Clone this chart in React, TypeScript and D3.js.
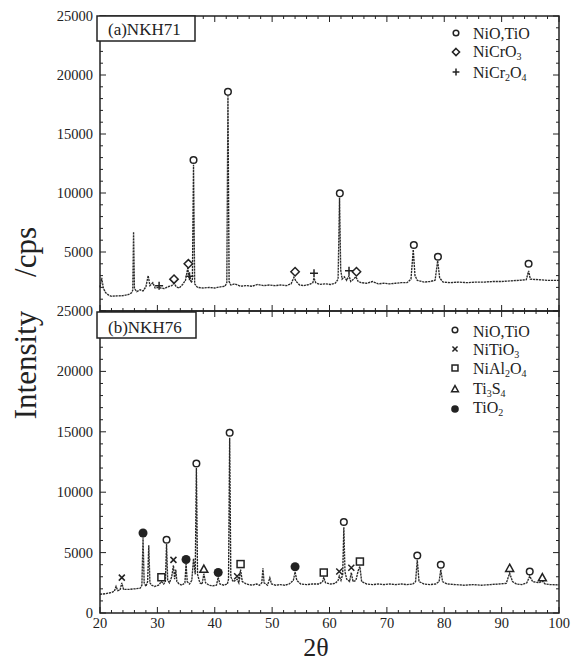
import React from "react";
import * as d3 from "d3";

// ---------- DATA ----------
const xTicksMajor = [20, 30, 40, 50, 60, 70, 80, 90, 100];
const yTicksTop = [5000, 10000, 15000, 20000, 25000];
const yTicksBottom = [0, 5000, 10000, 15000, 20000, 25000];

// (a) NKH71 pattern: [2theta, cps]
const patternA: [number, number][] = [
  [20.0, 2000], [20.3, 2800], [20.6, 1900], [21.0, 1550], [21.5, 1350], [22, 1250], [23, 1280], [24, 1300], [25, 1400],
  [25.5, 1550], [25.7, 1750], [25.85, 6700], [26.0, 1900], [26.4, 1650], [27, 1800], [27.5, 1700], [28.0, 2050],
  [28.4, 3000], [28.7, 2150], [29.2, 2400], [29.6, 1950], [30.2, 2000], [30.6, 1950], [31.2, 1900], [31.8, 2050],
  [32.5, 2150], [32.9, 2350], [33.3, 2050], [33.8, 1950], [34.4, 2250], [34.9, 2600], [35.3, 3650], [35.5, 2800],
  [35.7, 2850], [35.9, 2400], [36.1, 2600], [36.3, 12400], [36.5, 2300], [37, 2000], [38, 1950], [39, 2000],
  [40, 1950], [41, 2050], [41.8, 2100], [42.1, 2400], [42.3, 18200], [42.5, 2500], [42.8, 2200], [43.5, 2300],
  [44.5, 2100], [45.5, 2150], [46.5, 2100], [47.5, 2250], [48.5, 2150], [49.5, 2200], [50.5, 2150], [51.5, 2200],
  [52.5, 2150], [53.3, 2300], [53.8, 2850], [54.2, 2500], [54.8, 2200], [55.5, 2150], [56.5, 2250], [57.1, 2400],
  [57.3, 2800], [57.6, 2400], [58.3, 2250], [59.2, 2300], [60.2, 2250], [61.0, 2350], [61.5, 2700], [61.75, 9600],
  [61.95, 3500], [62.2, 2700], [62.6, 2900], [63.0, 2600], [63.4, 3000], [63.7, 2500], [64.2, 2700], [64.6, 2900],
  [65.0, 2500], [65.5, 2400], [66.5, 2350], [67.5, 2500], [68.5, 2300], [69.5, 2350], [70.5, 2300], [71.5, 2350],
  [72.5, 2400], [73.5, 2400], [74.2, 2700], [74.6, 5200], [74.9, 3000], [75.3, 2600], [76.5, 2450], [77.5, 2500],
  [78.4, 2600], [78.85, 4250], [79.2, 2800], [79.8, 2450], [81, 2400], [82.5, 2450], [84, 2400], [85.5, 2450],
  [87, 2450], [88.5, 2500], [90, 2500], [91.5, 2550], [93, 2600], [94.3, 2650], [94.7, 3400], [95.0, 2700],
  [96.5, 2650], [98, 2600], [100, 2600],
];

// (b) NKH76 pattern: [2theta, cps]
const patternB: [number, number][] = [
  [20, 1550], [21, 1600], [22, 1700], [22.5, 1800], [22.8, 2200], [23.1, 1850], [23.5, 1900], [23.8, 2500],
  [24.1, 1950], [25, 1950], [26, 2000], [27, 2050], [27.3, 2300], [27.5, 6250], [27.7, 2500], [28.0, 2200],
  [28.3, 2600], [28.5, 5600], [28.7, 2500], [29.0, 2300], [29.5, 2200], [30.2, 2300], [30.7, 2600], [31.1, 2400],
  [31.4, 2600], [31.6, 5700], [31.8, 2700], [32.1, 2500], [32.5, 3000], [32.8, 3950], [33.0, 2800], [33.2, 3600],
  [33.4, 2600], [33.8, 2400], [34.3, 2300], [34.8, 2500], [35.0, 4050], [35.2, 2600], [35.6, 2400], [36.0, 2700],
  [36.3, 4500], [36.6, 3200], [36.8, 12000], [37.0, 3200], [37.4, 2500], [37.8, 2400], [38.1, 3250], [38.4, 2500],
  [39, 2300], [39.6, 2250], [40.3, 2300], [40.6, 2950], [40.9, 2400], [41.6, 2300], [42.2, 2400], [42.4, 2800],
  [42.6, 14500], [42.8, 3000], [43.2, 2600], [43.6, 2700], [43.9, 2800], [44.2, 2500], [44.5, 3600], [44.8, 2600],
  [45.5, 2400], [46.5, 2300], [47.3, 2400], [47.8, 2300], [48.2, 2500], [48.4, 3700], [48.6, 2500], [49.2, 2300],
  [49.6, 2900], [49.9, 2400], [50.6, 2300], [51.4, 2350], [52.2, 2300], [53.0, 2400], [53.7, 2700], [54.0, 3400],
  [54.3, 2700], [55.0, 2400], [56, 2350], [57, 2400], [58.2, 2400], [58.8, 2600], [59.0, 2950], [59.3, 2500],
  [60.2, 2400], [61.0, 2450], [61.5, 2700], [61.7, 3050], [62.0, 2700], [62.3, 3200], [62.5, 7100], [62.7, 3400],
  [63.0, 2800], [63.5, 2600], [63.8, 3350], [64.1, 2600], [64.6, 2700], [65.0, 3500], [65.3, 3850], [65.6, 2600],
  [66.5, 2400], [67.5, 2350], [68.5, 2400], [69.5, 2350], [70.5, 2400], [71.5, 2350], [72.5, 2400], [73.5, 2350],
  [74.5, 2400], [75.0, 2600], [75.3, 4400], [75.6, 2600], [76.5, 2400], [77.5, 2350], [78.5, 2400], [79.1, 2600],
  [79.4, 3600], [79.7, 2600], [80.5, 2400], [82, 2350], [83.5, 2300], [85, 2350], [86.5, 2300], [88, 2350],
  [89.5, 2400], [90.8, 2450], [91.4, 3300], [91.9, 2600], [92.6, 2400], [93.5, 2350], [94.4, 2500], [94.9, 3050],
  [95.4, 2600], [96.5, 2500], [97.1, 2650], [97.6, 2400], [98.5, 2350], [100, 2330],
];

// Phase markers (a)
const aNiOTiO: [number, number][] = [[36.3, 12800], [42.3, 18570], [61.8, 9970], [74.7, 5590], [78.9, 4600], [94.7, 4000]];
const aNiCrO3: [number, number][] = [[32.9, 2700], [35.4, 4000], [54.0, 3330], [64.7, 3330]];
const aNiCr2O4: [number, number][] = [[30.3, 2150], [35.6, 2950], [57.3, 3190], [63.4, 3410]];

// Phase markers (b)
const bNiOTiO: [number, number][] = [[31.6, 6060], [36.8, 12380], [42.6, 14920], [62.5, 7530], [75.3, 4760], [79.4, 3990], [94.9, 3430]];
const bNiTiO3: [number, number][] = [[23.8, 2930], [32.8, 4400], [43.9, 3050], [61.7, 3430], [63.8, 3740]];
const bNiAl2O4: [number, number][] = [[30.7, 2960], [44.5, 4050], [59.0, 3350], [65.3, 4260]];
const bTi3S4: [number, number][] = [[38.1, 3630], [91.4, 3710], [97.1, 2930]];
const bTiO2: [number, number][] = [[27.5, 6620], [35.0, 4430], [40.6, 3350], [54.0, 3830]];

const FONT = "'Liberation Serif', 'Times New Roman', serif";
const INK = "#222";

type Shape = "circle" | "diamond" | "plus" | "cross" | "square" | "triangle" | "dot";

function Marker({ shape, x, y, s = 1 }: { shape: Shape; x: number; y: number; s?: number }) {
  const sw = 1.5;
  switch (shape) {
    case "circle":
      return <circle cx={x} cy={y} r={3.3 * s} fill="white" stroke={INK} strokeWidth={sw} />;
    case "diamond": {
      const r = 4.2 * s;
      return <path d={`M${x},${y - r}L${x + r},${y}L${x},${y + r}L${x - r},${y}Z`} fill="white" stroke={INK} strokeWidth={sw} />;
    }
    case "plus": {
      const r = 4 * s;
      return <path d={`M${x - r},${y}H${x + r}M${x},${y - r}V${y + r}`} stroke={INK} strokeWidth={sw} />;
    }
    case "cross": {
      const r = 3 * s;
      return <path d={`M${x - r},${y - r}L${x + r},${y + r}M${x - r},${y + r}L${x + r},${y - r}`} stroke={INK} strokeWidth={sw} />;
    }
    case "square": {
      const r = 3.5 * s;
      return <rect x={x - r} y={y - r} width={2 * r} height={2 * r} fill="white" stroke={INK} strokeWidth={sw} />;
    }
    case "triangle": {
      const r = 4 * s;
      return <path d={`M${x},${y - r}L${x + r},${y + r * 0.8}L${x - r},${y + r * 0.8}Z`} fill="white" stroke={INK} strokeWidth={sw} />;
    }
    case "dot":
      return <circle cx={x} cy={y} r={4.5 * s} fill={INK} stroke="none" />;
  }
}

const L = 100, R = 559;
const topY0 = 16, topY1 = 311, botY0 = 311, botY1 = 613;

function Panel({
  y0, y1, ticks, pattern, markers, label, labelBox,
}: {
  y0: number; y1: number; ticks: number[]; pattern: [number, number][];
  markers: { shape: Shape; pts: [number, number][] }[]; label: string; labelBox: [number, number, number, number, number];
}) {
  const x = d3.scaleLinear().domain([20, 100]).range([L, R]);
  const y = d3.scaleLinear().domain([0, 25000]).range([y1, y0]);
  const line = d3.line<[number, number]>().x((d) => x(d[0])).y((d) => y(d[1]));
  const xMinor = d3.range(20, 100.01, 2);
  const yMinor = d3.range(0, 25001, 1000);
  const [bx, by, bw, bh, tb] = labelBox;
  return (
    <g>
      <path d={line(pattern) || ""} fill="none" stroke="#2a2a2a" strokeWidth={1.35} strokeDasharray="2.2 0.8" />
      {xMinor.map((v) => {
        const major = v % 10 === 0;
        const len = major ? 6 : 3;
        return (
          <g key={"x" + v}>
            <line x1={x(v)} x2={x(v)} y1={y1} y2={y1 - len} stroke={INK} strokeWidth={1} />
            <line x1={x(v)} x2={x(v)} y1={y0} y2={y0 + len} stroke={INK} strokeWidth={1} />
          </g>
        );
      })}
      {yMinor.map((v) => {
        const major = v % 5000 === 0;
        const len = major ? 6 : 3;
        return (
          <g key={"y" + v}>
            <line x1={L} x2={L + len} y1={y(v)} y2={y(v)} stroke={INK} strokeWidth={1} />
            <line x1={R} x2={R - len} y1={y(v)} y2={y(v)} stroke={INK} strokeWidth={1} />
          </g>
        );
      })}
      <rect x={L} y={y0} width={R - L} height={y1 - y0} fill="none" stroke={INK} strokeWidth={1.5} />
      {ticks.map((v) => (
        <text key={"t" + v} x={93} y={y(v) + 5} textAnchor="end" fontSize={14.5} fontFamily={FONT} fill={INK}>
          {v}
        </text>
      ))}
      {markers.map((m, i) =>
        m.pts.map((p, j) => <Marker key={i + "-" + j} shape={m.shape} x={x(p[0])} y={y(p[1])} />)
      )}
      <rect x={bx} y={by} width={bw} height={bh} fill="white" stroke={INK} strokeWidth={1.5} />
      <text x={bx + 11} y={tb} fontSize={17} fontFamily={FONT} fill={INK}>{label}</text>
    </g>
  );
}

function Sub({ children }: { children: React.ReactNode }) {
  return <tspan fontSize={10} dy={3}>{children}</tspan>;
}

export default function App() {
  const x = d3.scaleLinear().domain([20, 100]).range([L, R]);
  const legendText = { fontSize: 16, fontFamily: FONT, fill: INK } as const;
  return (
    <svg width={574} height={664} style={{ display: "block", position: "absolute", left: 0, top: 0, background: "white" }}>
      <rect width={574} height={664} fill="white" />
      <Panel
        y0={topY0} y1={topY1} ticks={yTicksTop} pattern={patternA}
        markers={[
          { shape: "circle", pts: aNiOTiO },
          { shape: "diamond", pts: aNiCrO3 },
          { shape: "plus", pts: aNiCr2O4 },
        ]}
        label="(a)NKH71" labelBox={[97, 16, 98, 25, 35]}
      />
      <Panel
        y0={botY0} y1={botY1} ticks={yTicksBottom} pattern={patternB}
        markers={[
          { shape: "circle", pts: bNiOTiO },
          { shape: "cross", pts: bNiTiO3 },
          { shape: "square", pts: bNiAl2O4 },
          { shape: "triangle", pts: bTi3S4 },
          { shape: "dot", pts: bTiO2 },
        ]}
        label="(b)NKH76" labelBox={[97, 312, 99, 26, 333]}
      />
      {xTicksMajor.map((v) => (
        <text key={v} x={x(v)} y={628} textAnchor="middle" fontSize={14.5} fontFamily={FONT} fill={INK}>{v}</text>
      ))}
      <text x={316} y={656} textAnchor="middle" fontSize={26} fontFamily={FONT} fill={INK}>2θ</text>
      <text transform="translate(36,365) rotate(-90)" textAnchor="middle" fontSize={31} fontFamily={FONT} fill={INK}>Intensity</text>
      <text transform="translate(36,252) rotate(-90)" textAnchor="middle" fontSize={31} fontFamily={FONT} fill={INK}>/cps</text>
      {/* legend (a) */}
      <Marker shape="circle" x={456} y={33} s={0.85} />
      <text x={473} y={39} {...legendText}>NiO,TiO</text>
      <Marker shape="diamond" x={456} y={52} s={0.85} />
      <text x={473} y={57} {...legendText}>NiCrO<Sub>3</Sub></text>
      <Marker shape="plus" x={456} y={72} s={0.85} />
      <text x={473} y={78} {...legendText}>NiCr<Sub>2</Sub><tspan dy={-3}>O</tspan><Sub>4</Sub></text>
      {/* legend (b) */}
      <Marker shape="circle" x={455} y={330} s={0.85} />
      <text x={473} y={337} {...legendText}>NiO,TiO</text>
      <Marker shape="cross" x={455} y={349} s={0.85} />
      <text x={473} y={355} {...legendText}>NiTiO<Sub>3</Sub></text>
      <Marker shape="square" x={455} y={368} s={0.85} />
      <text x={473} y={374} {...legendText}>NiAl<Sub>2</Sub><tspan dy={-3}>O</tspan><Sub>4</Sub></text>
      <Marker shape="triangle" x={455} y={389} s={0.85} />
      <text x={473} y={394} {...legendText}>Ti<Sub>3</Sub><tspan dy={-3}>S</tspan><Sub>4</Sub></text>
      <Marker shape="dot" x={455} y={409} s={0.85} />
      <text x={473} y={413} {...legendText}>TiO<Sub>2</Sub></text>
    </svg>
  );
}
